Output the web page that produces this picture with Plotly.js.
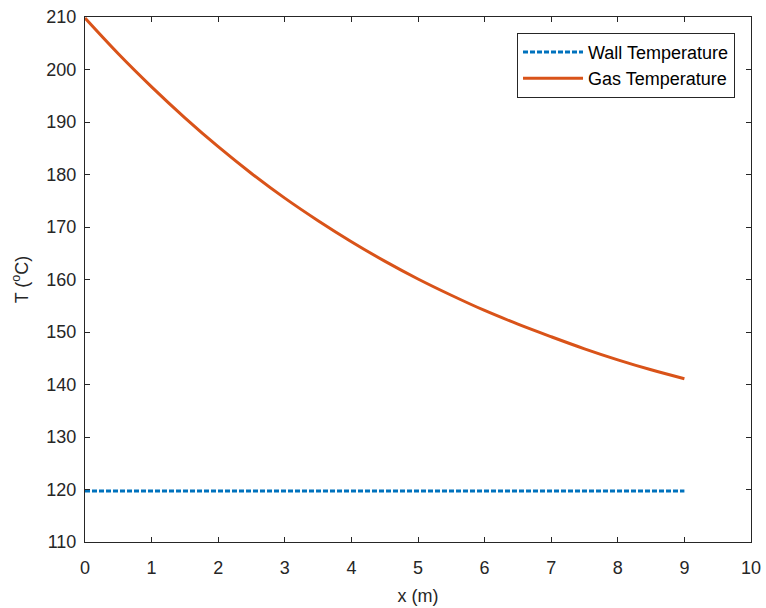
<!DOCTYPE html>
<html>
<head>
<meta charset="utf-8">
<script src="https://cdn.plot.ly/plotly-3.0.1.min.js"></script>
<style>html,body{margin:0;padding:0;background:#fff;}#chart{width:766px;height:608px;}</style>
</head>
<body>
<div id="chart"></div>
<script>
const xPos = [0, 0.5, 1, 1.5, 2, 2.5, 3, 3.5, 4, 4.5, 5, 5.5, 6, 6.5, 7, 7.5, 8, 8.5, 9];
const gasTemp = [209.8, 203.0, 196.7, 190.8, 185.3, 180.2, 175.5, 171.2, 167.2, 163.5, 160.1, 157.0, 154.1, 151.5, 149.1, 146.8, 144.7, 142.8, 141.1];
const wallX = [0, 9];
const wallTemp = [119.7, 119.7];
const xTicks = [0, 1, 2, 3, 4, 5, 6, 7, 8, 9, 10];
const yTicks = [110, 120, 130, 140, 150, 160, 170, 180, 190, 200, 210];

const font = {family: 'Liberation Sans, Arial, sans-serif', size: 18, color: '#262626'};

const traces = [
  {x: wallX, y: wallTemp, mode: 'lines', name: 'Wall Temperature',
   line: {color: '#0072BD', width: 3, dash: '5px,2px'}},
  {x: xPos, y: gasTemp, mode: 'lines', name: 'Gas Temperature',
   line: {color: '#D95319', width: 3, shape: 'spline'}}
];

const axisCommon = {
  showgrid: false, zeroline: false, showline: true, mirror: 'ticks',
  linecolor: '#262626', linewidth: 1, ticks: 'inside', ticklen: 5,
  tickcolor: '#262626', tickwidth: 1, tickfont: font
};

const layout = {
  width: 766, height: 608,
  margin: {l: 85, r: 15, t: 17, b: 66},
  paper_bgcolor: '#fff', plot_bgcolor: '#fff',
  font: font,
  showlegend: true,
  xaxis: Object.assign({}, axisCommon, {
    range: [0, 10], tickvals: xTicks, ticktext: xTicks.map(String),
    ticklabelstandoff: 9,
    title: {text: 'x (m)', font: font, standoff: 12}
  }),
  yaxis: Object.assign({}, axisCommon, {
    range: [110, 210], tickvals: yTicks, ticktext: yTicks.map(String),
    ticklabelstandoff: 4,
    title: {text: 'T (<sup>o</sup>C)', font: font, standoff: 13}
  }),
  legend: {
    x: 0.976, y: 0.970, xanchor: 'right', yanchor: 'top',
    bgcolor: '#fff', bordercolor: '#262626', borderwidth: 1,
    font: {family: 'Liberation Sans, Arial, sans-serif', size: 18, color: '#000'},
    itemwidth: 60, tracegroupgap: 0
  }
};

Plotly.newPlot('chart', traces, layout, {displayModeBar: false, staticPlot: true});
</script>
</body>
</html>
